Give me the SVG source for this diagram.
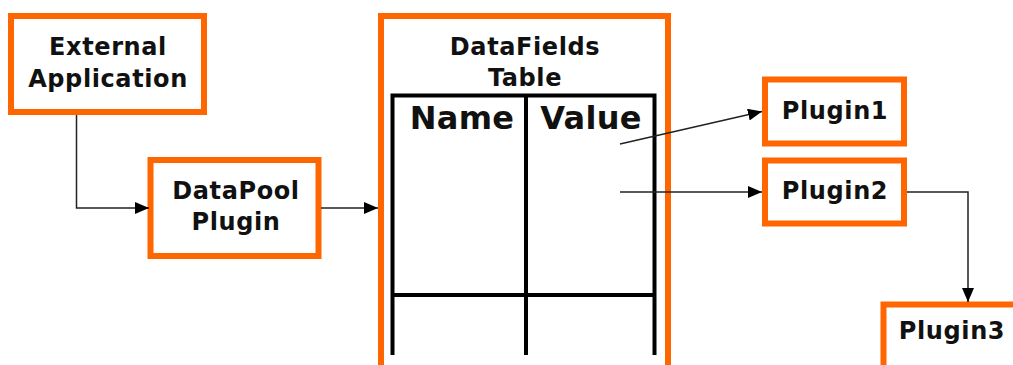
<svg xmlns="http://www.w3.org/2000/svg" width="1013" height="365" viewBox="0 0 1013 365">
<style>
.box{fill:#fff;stroke:#FF6600;stroke-width:6}
.t{font-family:"DejaVu Sans",Verdana,sans-serif;font-weight:bold;font-size:24px;letter-spacing:0.6px;fill:#111;text-anchor:middle}
.th{font-size:32px;letter-spacing:0.3px}
.grid{stroke:#000;stroke-width:4;fill:none}
.c{stroke:#222;stroke-width:1.5;fill:none}
</style>
<defs>
<marker id="ah" markerWidth="14" markerHeight="12" refX="14" refY="6" orient="auto" markerUnits="userSpaceOnUse">
<path d="M0,0 L14,6 L0,12 Z" fill="#000"/>
</marker>
</defs>
<g id="external-application">
<rect class="box" x="11" y="16" width="193" height="96"/>
<text class="t" x="108" y="55">External</text>
<text class="t" x="108" y="87">Application</text>
</g>
<g id="datapool-plugin">
<rect class="box" x="150.5" y="160" width="168" height="96"/>
<text class="t" x="236" y="199">DataPool</text>
<text class="t" x="236" y="230">Plugin</text>
</g>
<g id="datafields-table">
<rect class="box" x="381" y="16" width="287" height="370"/>
<text class="t" x="525" y="55">DataFields</text>
<text class="t" x="525" y="86">Table</text>
<path class="grid" d="M392.5,355 V95.5 H654.5 V355 M526,95.5 V355 M392.5,295 H654.5"/>
<text class="t th" x="462" y="129">Name</text>
<text class="t th" x="591" y="129">Value</text>
</g>
<g id="plugin1">
<rect class="box" x="765" y="79.5" width="139" height="64"/>
<text class="t" x="835" y="119">Plugin1</text>
</g>
<g id="plugin2">
<rect class="box" x="765" y="160.5" width="139" height="63"/>
<text class="t" x="835" y="199">Plugin2</text>
</g>
<g id="plugin3">
<rect class="box" x="883.5" y="304.5" width="150" height="80"/>
<text class="t" x="952" y="339">Plugin3</text>
</g>
<g id="connectors">
<path class="c" d="M76.5,115 V208 H149" marker-end="url(#ah)"/>
<path class="c" d="M321,208 H378" marker-end="url(#ah)"/>
<path class="c" d="M620,144 L762,111.5" marker-end="url(#ah)"/>
<path class="c" d="M620,192 H762" marker-end="url(#ah)"/>
<path class="c" d="M907,192 H968 V302" marker-end="url(#ah)"/>
</g>
</svg>
